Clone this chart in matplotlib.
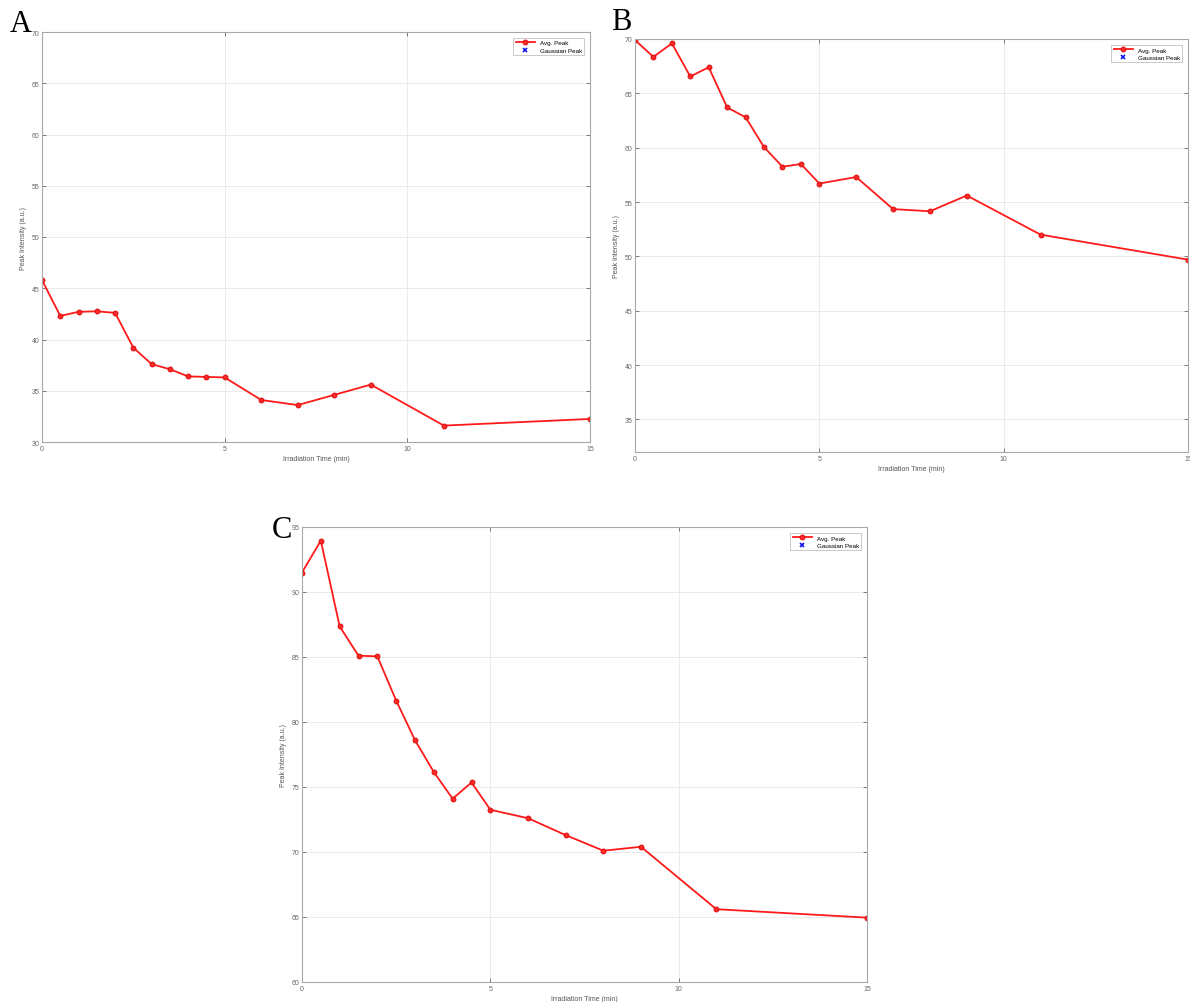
import matplotlib
matplotlib.use('Agg')
import matplotlib.pyplot as plt

time_min = [0, 0.5, 1, 1.5, 2, 2.5, 3, 3.5, 4, 4.5, 5, 6, 7, 8, 9, 11, 15]

peak_a = [45.8, 42.3, 42.7, 42.75, 42.6, 39.2, 37.6, 37.1, 36.4, 36.35, 36.3,
          34.1, 33.6, 34.6, 35.6, 31.6, 32.25]
peak_b = [69.9, 68.35, 69.6, 66.55, 67.4, 63.7, 62.8, 60.05, 58.25, 58.5, 56.7,
          57.3, 54.35, 54.15, 55.6, 52.0, 49.7]
peak_c = [91.5, 93.95, 87.35, 85.1, 85.05, 81.65, 78.6, 76.15, 74.1, 75.35, 73.25,
          72.6, 71.3, 70.1, 70.4, 65.6, 64.95]

panel_labels = ['A', 'B', 'C']
ylims = [(30, 70), (32, 70), (60, 95)]
yticks = [range(30, 71, 5), range(35, 71, 5), range(60, 96, 5)]
xticks = [0, 5, 10, 15]

plt.rcParams['font.family'] = ['Liberation Sans', 'DejaVu Sans']

W, H = 1190, 1003
fig = plt.figure(figsize=(W / 100, H / 100), dpi=100)

# axes boxes in pixels: left, right, top, bottom
boxes = [(42, 590, 33, 443), (635, 1188, 40, 453), (302, 867, 528, 983)]
label_pos = [(10, 32), (611, 30), (272, 538)]
series = [peak_a, peak_b, peak_c]

for i, (l, r, t, b) in enumerate(boxes):
    ax = fig.add_axes([l / W, (H - b) / H, (r - l) / W, (b - t) / H])
    ax.plot(time_min, series[i], '-o', color='#ff1a1a', lw=1.3, ms=3.4,
            mfc='#ff2a2a', mec='#e01010', mew=0.8, label='Avg. Peak')
    ax.plot([], [], 'x', color='#1010ee', ms=3, mew=1.2, label='Gaussian Peak')
    ax.set_xlim(0, 15)
    ax.set_ylim(*ylims[i])
    ax.set_xticks(xticks)
    ax.set_yticks(list(yticks[i]))
    ax.grid(True, color='#e8e8e8', lw=0.6)
    ax.tick_params(direction='in', length=3, width=0.6, colors='#666666',
                   labelsize=5, pad=2, top=True, right=True)
    for s in ax.spines.values():
        s.set_color('#a8a8a8')
        s.set_linewidth(0.8)
    ax.set_xlabel('Irradiation Time (min)', fontsize=5, color='#555555', labelpad=2)
    ax.set_ylabel('Peak Intensity (a.u.)', fontsize=5, color='#555555', labelpad=3)
    leg = ax.legend(loc='upper right', fontsize=4.5, fancybox=False,
                    borderpad=0.4, handlelength=3, labelspacing=0.3,
                    borderaxespad=0.9)
    leg.get_frame().set_edgecolor('#b0b0b0')
    leg.get_frame().set_linewidth(0.6)
    fig.text(label_pos[i][0] / W, 1 - label_pos[i][1] / H, panel_labels[i],
             fontsize=22, family='Liberation Serif', va='baseline', ha='left')

fig.savefig('out.png', dpi=100)
